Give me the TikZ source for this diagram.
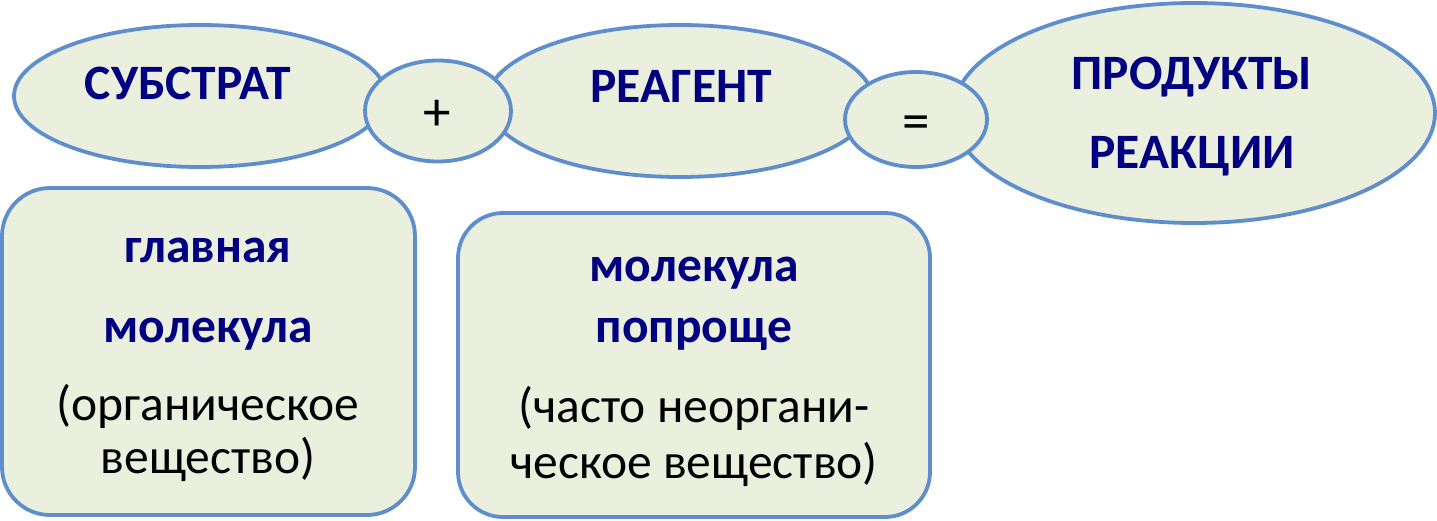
\documentclass[tikz,border=0pt]{standalone}
\usepackage{fontspec}
\setmainfont{Carlito}
\usetikzlibrary{shapes.geometric}
\definecolor{edgec}{RGB}{95,142,205}
\definecolor{fillc}{RGB}{235,240,222}
\definecolor{navyc}{RGB}{0,0,128}
\begin{document}
\begin{tikzpicture}[x=1pt,y=-1pt,
  ell/.style={ellipse, draw=edgec, fill=fillc, line width=3.8pt, inner sep=0pt},
  boxc/.style={rectangle, rounded corners=48pt, draw=edgec, fill=fillc, line width=3.8pt, inner sep=0pt},
  headtxt/.style={anchor=base, inner sep=0pt, text=navyc, font=\bfseries\fontsize{49.5}{54}\selectfont},
  subtxt/.style={anchor=base, inner sep=0pt, text=black, font=\fontsize{49.5}{54}\selectfont},
  symtxt/.style={anchor=center, inner sep=0pt, text=black, font=\fontsize{55}{60}\selectfont}]
\useasboundingbox (0,0) rectangle (1437,521);
% big ellipses
\node[ell, minimum width=372pt, minimum height=142pt] (sub) at (200,96) {};
\node[ell, minimum width=386pt, minimum height=152pt] (rea) at (680,101) {};
\node[ell, minimum width=482pt, minimum height=220pt] (prod) at (1194,113) {};
% small circles
\node[ell, minimum width=146pt, minimum height=101pt] (plus) at (438,111) {};
\node[ell, minimum width=142pt, minimum height=95pt] (eq) at (916,119.5) {};
% labels in ellipses
\node[headtxt] (tsub) at (188,100) {СУБСТРАТ};
\node[headtxt] (trea) at (681,103) {РЕАГЕНТ};
\node[headtxt] (tprod1) at (1192,90) {ПРОДУКТЫ};
\node[headtxt] (tprod2) at (1192,169) {РЕАКЦИИ};
\node[symtxt] (tplus) at (437.5,115.5) {+};
\node[symtxt] (teq) at (916.5,127.5) {=};
% boxes
\node[boxc, minimum width=413pt, minimum height=327pt] (box1) at (208.5,351.5) {};
\node[boxc, minimum width=472pt, minimum height=304pt, rounded corners=45pt] (box2) at (694,365) {};
\node[headtxt] (b1a) at (208,262) {главная};
\node[headtxt] (b1b) at (208,342) {молекула};
\node[subtxt] (b1c) at (208,420) {(органическое};
\node[subtxt] (b1d) at (208,473) {вещество)};
\node[headtxt] (b2a) at (694,282) {молекула};
\node[headtxt] (b2b) at (694,342) {попроще};
\node[subtxt] (b2c) at (694,422) {(часто неоргани-};
\node[subtxt] (b2d) at (694,478) {ческое вещество)};
\end{tikzpicture}
\end{document}
